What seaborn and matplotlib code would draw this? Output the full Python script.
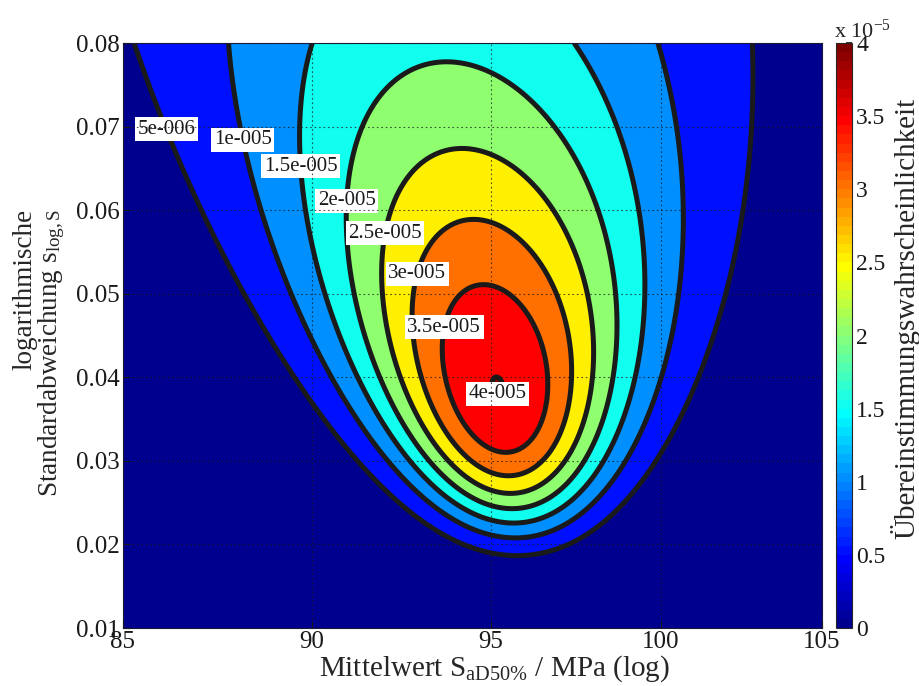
import numpy as np
import matplotlib
matplotlib.use("Agg")
import matplotlib.pyplot as plt
from matplotlib.colors import ListedColormap, Normalize
from matplotlib.cm import ScalarMappable
import seaborn as sns

# Likelihood surface parameters (mean in MPa, log standard deviation)
peak_mean = 95.19          # S_aD50% on the ridge at the maximum
peak_slog = 0.039          # s_log,S at the maximum
peak_value = 4.006e-5      # maximum agreement probability
n_slog = 2.2               # effective sample size governing the s_log profile
ridge_tilt = -0.142        # slope of the ridge (log10 MPa per unit s_log)
ridge_curv = -0.779        # curvature of the ridge (log10 MPa per unit s_log^2)
width_coef = [0.0012, 0.295]  # spread in log10 mean: a + b * s_log

# Axis ranges and ticks
x_range = [85, 105]
y_range = [0.01, 0.08]
x_ticks = [85, 90, 95, 100, 105]
y_ticks = [0.01, 0.02, 0.03, 0.04, 0.05, 0.06, 0.07, 0.08]

# Contour levels and their labels
levels = [5e-6, 1e-5, 1.5e-5, 2e-5, 2.5e-5, 3e-5, 3.5e-5, 4e-5]
level_text = ["5e-006", "1e-005", "1.5e-005", "2e-005",
              "2.5e-005", "3e-005", "3.5e-005", "4e-005"]
label_x = [86.21, 88.14, 89.78, 91.04, 92.17, 93.07, 93.89, 95.18]
label_y = [0.0698, 0.0684, 0.0653, 0.0611, 0.0571, 0.0522, 0.0458, 0.0376]

cbar_ticks = [0, 0.5e-5, 1e-5, 1.5e-5, 2e-5, 2.5e-5, 3e-5, 3.5e-5, 4e-5]
cbar_text = ["0", "0.5", "1", "1.5", "2", "2.5", "3", "3.5", "4"]
c_max = 4e-5


def jet64():
    """Classic 64-entry jet table."""
    m = 64
    n = 16
    u = np.concatenate([np.arange(1, n + 1) / n, np.ones(n - 1), np.arange(n, 0, -1) / n])
    g = 8 + np.arange(1, len(u) + 1)
    r = g + n
    b = g - n
    J = np.zeros((m, 3))
    for idx, col in ((r, 0), (g, 1), (b, 2)):
        ok = (idx >= 1) & (idx <= m)
        J[idx[ok] - 1, col] = u[ok]
    return J


J = jet64()
cmap = ListedColormap(J)

sns.set_theme(style="ticks")
plt.rcParams["font.family"] = ["Liberation Serif", "DejaVu Serif"]
plt.rcParams["mathtext.fontset"] = "custom"
plt.rcParams["mathtext.rm"] = "Liberation Serif"
plt.rcParams["mathtext.it"] = "Liberation Serif:italic"

# Surface on a log-mean / s_log grid
u = np.linspace(np.log10(x_range[0]), np.log10(x_range[1]), 700)
s = np.linspace(y_range[0], y_range[1], 700)
U, S = np.meshgrid(u, s)
G = n_slog * (np.log(peak_slog / S) - peak_slog ** 2 / (2 * S ** 2) + 0.5)
ds = S - peak_slog
centre = np.log10(peak_mean) + ridge_tilt * ds + ridge_curv * ds ** 2
width = width_coef[0] + width_coef[1] * S
Z = peak_value * np.exp(G - (U - centre) ** 2 / (2 * width ** 2))
X = 10 ** U

fig = plt.figure(figsize=(9.19, 6.86), dpi=100)
ax = fig.add_axes([0.1338, 0.0845, 0.7606, 0.8528])
cax = fig.add_axes([0.9097, 0.0845, 0.0174, 0.8528])

fill_levels = [0.0] + levels + [1.0]
band_colors = [J[min(int(lv / c_max * 64), 63)] for lv in fill_levels[:-1]]
ax.contourf(X, S, Z, levels=fill_levels, colors=band_colors, zorder=1)
cs = ax.contour(X, S, Z, levels=levels, colors="k", linewidths=3.6, zorder=2)

fmt = dict(zip(cs.levels, level_text))
texts = ax.clabel(cs, levels=cs.levels, manual=list(zip(label_x, label_y)),
                  inline=False, fmt=fmt, fontsize=15, colors="k")
for t in texts:
    t.set_rotation(0)
    t.set_bbox(dict(boxstyle="square,pad=0.12", fc="white", ec="none"))
    t.set_zorder(2.3)

ax.set_xscale("log")
ax.set_xlim(x_range)
ax.set_ylim(y_range)
ax.set_xticks(x_ticks)
ax.set_xticklabels([str(v) for v in x_ticks])
ax.xaxis.set_minor_locator(matplotlib.ticker.NullLocator())
ax.set_yticks(y_ticks)
ax.set_yticklabels([f"{v:.2f}" for v in y_ticks])
ax.tick_params(direction="in", length=5, width=0.8, labelsize=18, colors="k", pad=2)
ax.grid(True, which="major", linestyle=(0, (1.5, 2.5)), color="k", linewidth=0.8, alpha=0.75)
ax.set_axisbelow(False)
for sp in ax.spines.values():
    sp.set_linewidth(0.8)
    sp.set_color("#1a1a40")

ax.set_xlabel(r"Mittelwert S$_{\mathrm{aD50\%}}$ / MPa (log)", fontsize=21)
ax.xaxis.set_label_coords(0.531, -0.043)
ax.set_ylabel("logarithmische\n" + r"Standardabweichung s$_{\mathrm{log,S}}$",
              fontsize=19.5, linespacing=0.95, multialignment="right")
ax.yaxis.set_label_coords(-0.080, 0.47)

sm = ScalarMappable(norm=Normalize(0, c_max), cmap=cmap)
cb = fig.colorbar(sm, cax=cax)
cb.set_ticks(cbar_ticks)
cb.set_ticklabels(cbar_text)
cb.outline.set_linewidth(0.8)
cax.tick_params(direction="in", length=4, labelsize=17, colors="k", pad=3)
fig.text(905 / 919, 1 - 318 / 686, "Übereinstimmungswahrscheinlichkeit",
         fontsize=21, rotation=90, ha="center", va="center")
fig.text(0.908, 0.938, r"x 10$^{-5}$", fontsize=16, ha="left", va="bottom")

fig.savefig("out.png", dpi=100)
